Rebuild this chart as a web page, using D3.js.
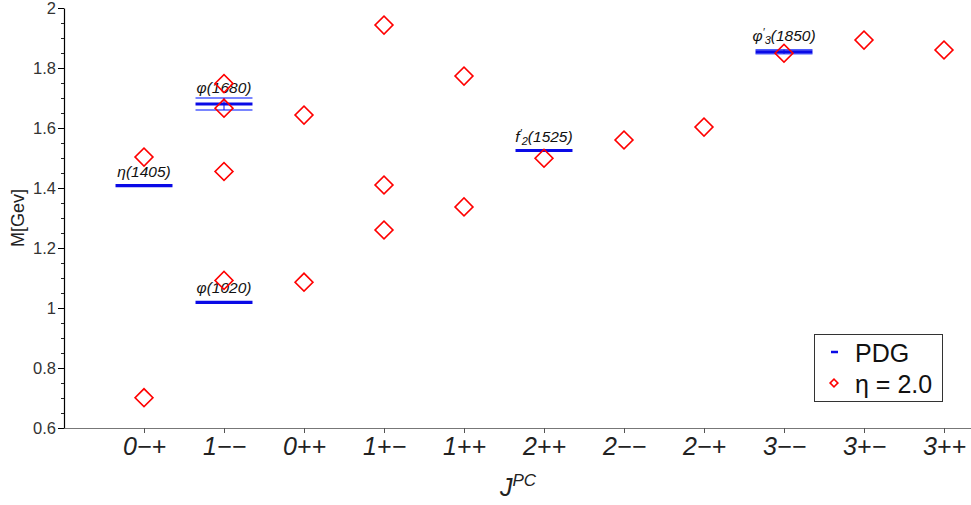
<!DOCTYPE html>
<html><head><meta charset="utf-8">
<script src="https://cdn.jsdelivr.net/npm/d3@7"></script>
<style>body{margin:0;background:#fff}svg{display:block}text{font-family:"Liberation Sans",Arial,sans-serif}</style>
</head><body>
<svg id="c" width="971" height="505"></svg>
<script>
const categories = ["0−+","1−−","0++","1+−","1++","2++","2−−","2−+","3−−","3+−","3++"];
const yTicks = [0.6,0.8,1,1.2,1.4,1.6,1.8,2];
// eta = 2.0 model points: [category index, mass]
const modelCat  = [0,0, 1,1,1,1, 2,2, 3,3,3, 4,4, 5, 6, 7, 8, 9, 10];
const modelMass = [1.503,0.701, 1.748,1.666,1.455,1.092, 1.643,1.086, 1.943,1.410,1.260, 1.773,1.337, 1.499, 1.560, 1.603, 1.849, 1.893, 1.860];
// PDG states
const pdgName = ["η(1405)","φ(1680)","φ(1020)","f2(1525)","φ3(1850)"];
const pdgCat  = [0,1,1,5,8];
const pdgMass = [1.408,1.680,1.019,1.525,1.854];
const pdgErr  = [0,0.020,0,0,0.007];

const svg = d3.select("#c");
const x = d3.scaleLinear().domain([-1, 10.3375]).range([64, 971]);
const y = d3.scaleLinear().domain([0.6, 2]).range([428, 8]);
const blue = "#0a0ae6", red = "#ff0000";

// x axis
const gx = svg.append("g").attr("transform", `translate(0,${y(0.6)})`)
  .call(d3.axisBottom(x).tickValues(d3.range(categories.length)).tickSize(5).tickSizeOuter(0).tickFormat(i => categories[i]));
gx.select(".domain").attr("stroke", "#777").attr("stroke-width", 1.2);
gx.selectAll(".tick line").attr("stroke", "#555");
gx.selectAll(".tick text").attr("font-size", 25).attr("font-style", "italic").attr("fill", "#222").attr("y", 9).attr("dy", "0.71em")
  .style("font-family", '"Liberation Sans",Arial,sans-serif');

// y axis minor
const minor = d3.range(0.6, 2.0001, 0.05).map(v => +v.toFixed(2));
const gym = svg.append("g").attr("transform", `translate(${x(-1)},0)`)
  .call(d3.axisLeft(y).tickValues(minor).tickSize(3).tickFormat(""));
gym.select(".domain").remove();
gym.selectAll(".tick line").attr("stroke", "#222");
const gy = svg.append("g").attr("transform", `translate(${x(-1)},0)`)
  .call(d3.axisLeft(y).tickValues(yTicks).tickSize(6).tickSizeOuter(0).tickFormat(d => d3.format("")(d)));
gy.select(".domain").attr("stroke", "#000").attr("stroke-width", 1.2);
gy.selectAll(".tick line").attr("stroke", "#000");
gy.selectAll(".tick text").attr("font-size", 16.5).attr("fill", "#333").attr("x", -8)
  .style("font-family", '"Liberation Sans",Arial,sans-serif');

// axis titles
const xt = svg.append("text").attr("x", 500).attr("y", 496).attr("font-size", 25).attr("font-style", "italic").attr("fill", "#222");
xt.append("tspan").text("J");
xt.append("tspan").attr("font-size", 17).attr("dy", -10).text("PC");
svg.append("text").attr("transform", `translate(24,218) rotate(-90)`).attr("text-anchor", "middle")
  .attr("font-size", 18).attr("fill", "#222").text("M[Gev]");

// PDG lines
const hw = 0.356;
pdgName.forEach((n, i) => {
  const c = pdgCat[i], m = pdgMass[i], e = pdgErr[i];
  if (e > 0) {
    [m - e, m + e].forEach(v => svg.append("line").attr("x1", x(c - hw)).attr("x2", x(c + hw))
      .attr("y1", y(v)).attr("y2", y(v)).attr("stroke", "#4d5cff").attr("stroke-width", 1.3));
    svg.append("line").attr("x1", x(c)).attr("x2", x(c)).attr("y1", y(m - e)).attr("y2", y(m + e))
      .attr("stroke", blue).attr("stroke-width", 1);
  }
  svg.append("line").attr("x1", x(c - hw)).attr("x2", x(c + hw)).attr("y1", y(m)).attr("y2", y(m))
    .attr("stroke", blue).attr("stroke-width", 3.2);
});

// labels
function label(i, build, off) {
  const t = svg.append("text").attr("x", x(pdgCat[i])).attr("y", y(pdgMass[i]) - off)
    .attr("text-anchor", "middle").attr("font-size", 15.5).attr("font-style", "italic").attr("fill", "#111");
  build(t);
}
label(0, t => t.text("η(1405)"), 9);
label(1, t => t.text("φ(1680)"), 11);
label(2, t => t.text("φ(1020)"), 9);
label(3, t => { t.append("tspan").text("f"); t.append("tspan").attr("font-size", 11).attr("dy", -5).text("′");
  t.append("tspan").attr("font-size", 11).attr("dy", 8).text("2"); t.append("tspan").attr("dy", -3).text("(1525)"); }, 9);
label(4, t => { t.append("tspan").text("φ"); t.append("tspan").attr("font-size", 11).attr("dy", -5).text("′");
  t.append("tspan").attr("font-size", 11).attr("dy", 8).text("3"); t.append("tspan").attr("dy", -3).text("(1850)"); }, 11);

// model diamonds
const dsym = d3.symbol().type(d3.symbolSquare).size(160);
svg.append("g").selectAll("path").data(modelMass).join("path")
  .attr("d", dsym)
  .attr("transform", (d, i) => `translate(${x(modelCat[i])},${y(d)}) rotate(45)`)
  .attr("fill", "none").attr("stroke", red).attr("stroke-width", 1.6);

// legend
const lg = svg.append("g");
lg.append("rect").attr("x", 814.5).attr("y", 334.5).attr("width", 128).attr("height", 67)
  .attr("fill", "#fff").attr("stroke", "#333").attr("stroke-width", 1);
lg.append("line").attr("x1", 831).attr("x2", 838).attr("y1", 352).attr("y2", 352).attr("stroke", blue).attr("stroke-width", 2.5);
lg.append("text").attr("x", 855).attr("y", 362).attr("font-size", 25).attr("fill", "#111").text("PDG");
lg.append("path").attr("d", d3.symbol().type(d3.symbolSquare).size(30))
  .attr("transform", "translate(834,383) rotate(45)").attr("fill", "none").attr("stroke", red).attr("stroke-width", 1.6);
lg.append("text").attr("x", 855).attr("y", 393).attr("font-size", 25).attr("fill", "#111").text("η = 2.0");
</script>
</body></html>
